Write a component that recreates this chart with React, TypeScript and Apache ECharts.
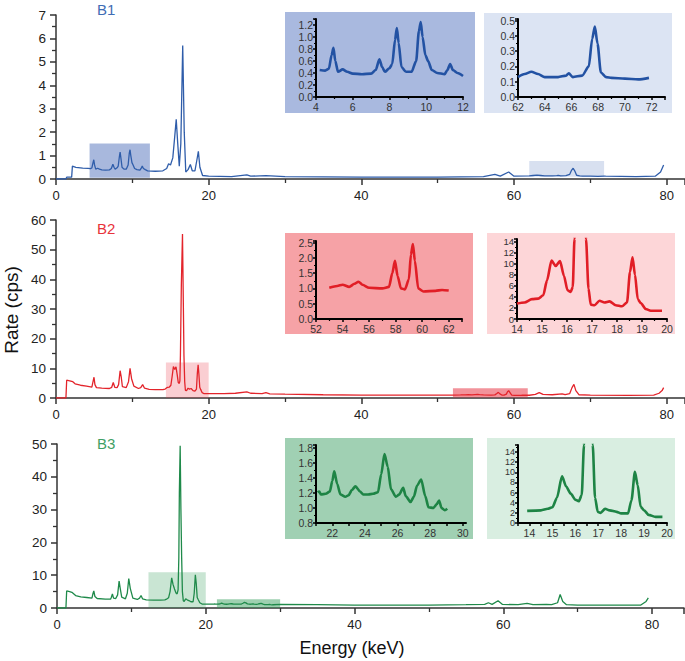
import React, { useEffect, useRef } from "react";
import * as echarts from "echarts";

// ---------- DATA ----------
const spectrumB1: [number, number][] = [
  [0, 0], [1.3, 0], [1.4, 0.08], [2.05, 0.08], [2.15, 0.55], [2.6, 0.5], [3.5, 0.46], [4.2, 0.45],
  [4.5, 0.44], [4.7, 0.47], [4.85, 0.7], [4.95, 0.82], [5.05, 0.6], [5.2, 0.42], [5.45, 0.46],
  [5.7, 0.42], [6.0, 0.39], [6.5, 0.38], [7.0, 0.39], [7.25, 0.45], [7.45, 0.63], [7.6, 0.5],
  [7.75, 0.42], [8.0, 0.48], [8.15, 0.55], [8.3, 0.95], [8.4, 1.15], [8.5, 0.9], [8.65, 0.5],
  [8.9, 0.42], [9.2, 0.42], [9.45, 0.6], [9.6, 1.1], [9.7, 1.25], [9.8, 1.0], [9.95, 0.7],
  [10.1, 0.6], [10.3, 0.45], [10.6, 0.4], [11.0, 0.38], [11.15, 0.45], [11.3, 0.55], [11.45, 0.45],
  [11.7, 0.4], [12.0, 0.35], [13, 0.33], [14.0, 0.35], [14.5, 0.45], [14.75, 0.65], [15.0, 0.6],
  [15.3, 0.9], [15.55, 1.8], [15.75, 2.55], [15.95, 1.5], [16.15, 0.55], [16.35, 1.5], [16.6, 5.7],
  [16.8, 2.0], [17.0, 0.3], [17.3, 0.4], [17.6, 0.62], [17.85, 0.35], [18.2, 0.35], [18.45, 0.8],
  [18.65, 1.18], [18.85, 0.5], [19.2, 0.15], [20, 0.12], [23, 0.1], [25, 0.18], [25.5, 0.12],
  [27.5, 0.14], [30, 0.1], [40, 0.08], [50, 0.08], [56, 0.1], [57.5, 0.2], [58.2, 0.12],
  [59.3, 0.3], [60, 0.12], [62, 0.13], [62.5, 0.15], [63.0, 0.165], [63.5, 0.15], [64, 0.13],
  [65, 0.13], [65.6, 0.14], [65.8, 0.155], [66.1, 0.13], [66.8, 0.14], [67.3, 0.2], [67.55, 0.38],
  [67.75, 0.46], [67.95, 0.35], [68.2, 0.16], [68.6, 0.13], [69, 0.125], [70, 0.12], [71, 0.115],
  [71.8, 0.125], [72, 0.12], [76, 0.1], [78.5, 0.12], [79.2, 0.3], [79.6, 0.6],
];

const spectrumB2: [number, number][] = [
  [0, 0], [1.3, 0], [1.4, 6.0], [1.8, 5.8], [2.2, 5.5], [2.5, 4.8], [3.2, 4.3], [4.0, 4.0],
  [4.7, 3.7], [4.85, 5.5], [4.98, 7.0], [5.1, 4.5], [5.3, 3.5], [6.0, 3.3], [7.0, 3.2], [7.3, 3.6],
  [7.5, 5.2], [7.7, 3.6], [8.0, 3.5], [8.2, 4.5], [8.4, 9.2], [8.55, 7], [8.7, 3.8], [9.2, 3.5],
  [9.5, 5.5], [9.7, 10.0], [9.9, 6.5], [10.2, 4.0], [10.8, 3.2], [11.1, 3.5], [11.35, 4.5],
  [11.6, 3.3], [12.2, 2.9], [13.0, 2.8], [14.0, 2.8], [14.3, 3.0], [14.6, 3.6], [14.85, 3.7],
  [15.05, 4.3], [15.2, 7.0], [15.38, 10.6], [15.55, 9.6], [15.72, 10.5], [15.88, 7.8], [16.02, 5.2],
  [16.15, 4.9], [16.23, 5.8], [16.3, 14.5], [16.42, 38], [16.57, 55.3], [16.68, 32], [16.76, 14.5],
  [16.86, 5.5], [16.95, 2.6], [17.1, 2.5], [17.3, 3.3], [17.5, 3.0], [17.7, 3.2], [17.95, 2.5],
  [18.2, 2.3], [18.4, 3.0], [18.52, 8.5], [18.62, 11.2], [18.72, 8.0], [18.83, 3.6], [18.95, 2.9],
  [19.15, 1.8], [19.35, 1.5], [19.8, 1.5], [20.5, 1.5], [22, 1.5], [23.5, 1.6], [25, 2.1],
  [25.5, 1.6], [27.0, 1.5], [27.5, 1.8], [28, 1.4], [30, 1.3], [35, 1.1], [40, 1.0], [45, 1.0],
  [50, 1.0], [52, 1.0], [53, 1.02], [53.6, 1.08], [54.0, 1.12], [54.5, 1.05], [54.9, 1.15],
  [55.2, 1.22], [55.5, 1.12], [56.0, 1.02], [57.0, 1.0], [57.5, 1.05], [57.75, 1.5], [57.95, 1.9],
  [58.15, 1.4], [58.4, 1.0], [58.7, 0.97], [59.0, 1.3], [59.15, 2.1], [59.3, 2.45], [59.45, 1.9],
  [59.7, 1.0], [60.1, 0.9], [61, 0.92], [61.5, 0.95], [62, 0.93], [62.8, 1.2], [63.3, 1.8],
  [63.8, 1.2], [65, 1.1], [66.3, 1.4], [66.7, 1.1], [67.3, 1.5], [67.6, 3.5], [67.85, 4.6],
  [68.1, 2.5], [68.5, 1.1], [70, 1.0], [75, 0.9], [78.3, 1.0], [79, 1.6], [79.4, 2.5], [79.6, 3.5],
];

const spectrumB3: [number, number][] = [
  [0, 0], [1.2, 0], [1.3, 5.2], [1.7, 5.0], [2.0, 4.8], [2.5, 3.8], [3.2, 3.4], [4.0, 3.2],
  [4.7, 3.0], [4.85, 4.5], [4.95, 5.2], [5.1, 3.5], [5.4, 2.9], [6.5, 2.7], [7.2, 2.7], [7.3, 3.2],
  [7.45, 4.3], [7.6, 3.0], [7.9, 2.9], [8.15, 4.0], [8.35, 8.2], [8.5, 6.0], [8.7, 3.3], [9.2, 2.8],
  [9.45, 4.5], [9.65, 9.0], [9.85, 6.0], [10.2, 3.0], [10.8, 2.6], [11.1, 3.0], [11.3, 3.8],
  [11.5, 2.8], [12.0, 2.5], [13.0, 2.4], [13.9, 2.4], [14.5, 2.5], [14.8, 2.8], [15.0, 3.1],
  [15.2, 5.0], [15.42, 9.2], [15.6, 7.2], [15.8, 5.8], [16.0, 4.6], [16.15, 4.3], [16.28, 5.5],
  [16.38, 15.4], [16.45, 35], [16.56, 49.5], [16.66, 30], [16.76, 15.4], [16.86, 5.0], [16.98, 2.2],
  [17.1, 2.0], [17.3, 2.8], [17.5, 2.5], [17.8, 2.2], [18.0, 1.9], [18.3, 1.9], [18.45, 4.5],
  [18.6, 10.1], [18.72, 7.5], [18.85, 3.2], [19.0, 2.5], [19.2, 1.6], [19.5, 1.2], [19.8, 1.2],
  [20.3, 1.2], [21.1, 1.21], [21.2, 1.22], [21.3, 1.18], [21.6, 1.19], [21.85, 1.22], [22.0, 1.36],
  [22.12, 1.49], [22.3, 1.32], [22.5, 1.18], [22.8, 1.15], [23.0, 1.17], [23.2, 1.24], [23.42, 1.29],
  [23.7, 1.22], [23.9, 1.18], [24.2, 1.18], [24.5, 1.19], [24.8, 1.21], [25.0, 1.45], [25.2, 1.72],
  [25.4, 1.55], [25.6, 1.25], [25.9, 1.15], [26.1, 1.18], [26.35, 1.27], [26.5, 1.16], [26.8, 1.08],
  [27.0, 1.15], [27.2, 1.3], [27.45, 1.38], [27.7, 1.16], [27.9, 1.01], [28.2, 1.0], [28.4, 1.05],
  [28.55, 1.1], [28.7, 1.0], [28.9, 0.97], [29.05, 0.99], [30, 1.1], [35, 1.0], [40, 0.9],
  [50, 0.9], [55, 1.0], [57.5, 1.1], [58.0, 1.6], [58.5, 1.1], [59.3, 2.2], [59.9, 1.1], [62, 1.0],
  [63.2, 1.4], [64, 1.0], [65.8, 1.1], [66.5, 1.0], [67.3, 1.6], [67.65, 4.1], [68.0, 2.0],
  [68.5, 1.0], [70, 0.9], [75, 0.85], [78.5, 0.9], [79.2, 2.0], [79.5, 3.1],
];

// highlighted windows on the main spectra: [x1, y1, x2, y2]
const highlightB1 = [[4.4, 0.05, 12.3, 1.52], [62, 0.1, 71.8, 0.77]];
const highlightB2 = [[14.4, 0, 20, 12], [52, 0.2, 61.8, 3.3]];
const highlightB3 = [[12.3, 0, 20, 10.9], [21.5, 0, 30, 2.65]];

// inset data windows [from, to]
const insetWindowB1 = [[4.2, 12], [62, 71.9]];
const insetWindowB2 = [[52.2, 62.1], [14, 19.8]];
const insetWindowB3 = [[21.1, 29.1], [13.9, 19.8]];

const panelLabels = ["B1", "B2", "B3"];

// ---------- STYLE ----------
const FONT = "Liberation Sans, Arial, sans-serif";
const lineColors = ["#2F5DAA", "#E3242B", "#1F8A4A"];
const insetLineColors = ["#2352A3", "#E11E26", "#1E8445"];
const labelColors = ["#3F6DB5", "#E8333B", "#3FA065"];
const hlColors = [
  ["rgba(62,98,180,0.45)", "rgba(62,98,180,0.2)"],
  ["rgba(235,60,75,0.25)", "rgba(230,40,55,0.5)"],
  ["rgba(40,150,80,0.25)", "rgba(40,150,80,0.45)"],
];

const mainGrids = [
  { left: 56, top: 15, width: 629, height: 164, xMax: 82.4, yMax: 7, yInt: 1 },
  { left: 56, top: 220, width: 629, height: 178, xMax: 82.4, yMax: 60, yInt: 10 },
  { left: 57, top: 444, width: 627, height: 164, xMax: 84.3, yMax: 50, yInt: 10 },
];

type Inset = {
  left: number; top: number; width: number; height: number;
  xMin: number; xMax: number; xInt: number; xLabelStep: number;
  yMin: number; yMax: number; yInt: number; yDec: number; yFont: number;
  bg: [number, number, number, number]; fill: string;
  sample: number; win: number[]; minorX: boolean;
};

const insets: Inset[] = [
  { left: 316, top: 19, width: 147, height: 78, xMin: 4, xMax: 12, xInt: 2, xLabelStep: 2,
    yMin: 0, yMax: 1.3, yInt: 0.2, yDec: 1, yFont: 10.5, bg: [285, 12, 190, 101], fill: "#A9B9DF",
    sample: 0, win: insetWindowB1[0], minorX: true },
  { left: 518, top: 19, width: 147, height: 78, xMin: 62, xMax: 73, xInt: 2, xLabelStep: 2,
    yMin: 0, yMax: 0.51, yInt: 0.1, yDec: 1, yFont: 10.5, bg: [484, 13, 188, 100], fill: "#DCE4F3",
    sample: 0, win: insetWindowB1[1], minorX: true },
  { left: 316, top: 241, width: 146, height: 78, xMin: 52, xMax: 63, xInt: 2, xLabelStep: 2,
    yMin: 0, yMax: 2.55, yInt: 0.5, yDec: 1, yFont: 10.5, bg: [285, 233, 188, 101], fill: "#F6A2A6",
    sample: 1, win: insetWindowB2[0], minorX: true },
  { left: 517, top: 239, width: 150, height: 80, xMin: 14, xMax: 20, xInt: 1, xLabelStep: 1,
    yMin: 0, yMax: 14.5, yInt: 2, yDec: 0, yFont: 9.5, bg: [487, 233, 188, 101], fill: "#FDD6D8",
    sample: 1, win: insetWindowB2[1], minorX: true },
  { left: 316, top: 445, width: 150, height: 78, xMin: 21, xMax: 30.2, xInt: 1, xLabelStep: 2,
    yMin: 0.8, yMax: 1.84, yInt: 0.2, yDec: 1, yFont: 10.5, bg: [285, 438, 188, 101], fill: "#A0D0B3",
    sample: 2, win: insetWindowB3[0], minorX: false },
  { left: 518, top: 445, width: 149, height: 78, xMin: 13.5, xMax: 20, xInt: 0.5, xLabelStep: 1,
    yMin: 0, yMax: 15.4, yInt: 2, yDec: 0, yFont: 9, bg: [487, 438, 188, 101], fill: "#D9EEE1",
    sample: 2, win: insetWindowB3[1], minorX: false },
];

const spectra = [spectrumB1, spectrumB2, spectrumB3];
const highlights = [highlightB1, highlightB2, highlightB3];

const isMultiple = (v: number, step: number) => {
  const r = v / step;
  return Math.abs(r - Math.round(r)) < 1e-6;
};

function buildOption() {
  const grid: any[] = [];
  const xAxis: any[] = [];
  const yAxis: any[] = [];
  const series: any[] = [];

  const axisCol = "#333";

  mainGrids.forEach((g, i) => {
    grid.push({ left: g.left, top: g.top, width: g.width, height: g.height, containLabel: false });
    xAxis.push({
      type: "value", gridIndex: i, min: 0, max: g.xMax, interval: 20,
      axisLine: { onZero: false, lineStyle: { color: axisCol, width: 1.5 } },
      axisTick: { length: 6, lineStyle: { color: axisCol, width: 1.5 } },
      minorTick: { show: true, splitNumber: 2, length: 4, lineStyle: { color: axisCol, width: 1.3 } },
      splitLine: { show: false }, minorSplitLine: { show: false },
      axisLabel: {
        fontSize: 13, color: "#222", margin: 10, fontFamily: FONT, showMaxLabel: false,
        formatter: (v: number) => (isMultiple(v, 20) && v <= 80 ? String(v) : ""),
      },
    });
    yAxis.push({
      type: "value", gridIndex: i, min: 0, max: g.yMax, interval: g.yInt,
      axisLine: { show: true, onZero: false, lineStyle: { color: axisCol, width: 1.5 } },
      axisTick: { show: true, length: 6, lineStyle: { color: axisCol, width: 1.5 } },
      minorTick: { show: true, splitNumber: 2, length: 4, lineStyle: { color: axisCol, width: 1.3 } },
      splitLine: { show: false }, minorSplitLine: { show: false },
      axisLabel: { fontSize: 13.5, color: "#222", margin: 10, fontFamily: FONT },
    });
    series.push({
      type: "line", xAxisIndex: i, yAxisIndex: i, data: spectra[i], showSymbol: false,
      lineStyle: { width: 1.3, color: lineColors[i] }, z: 3,
      markArea: {
        silent: true,
        data: highlights[i].map((r, k) => [
          { coord: [r[0], r[1]], itemStyle: { color: hlColors[i][k] } },
          { coord: [r[2], r[3]] },
        ]),
      },
    });
  });

  insets.forEach((s, j) => {
    const gi = 3 + j;
    const xMaxIsTick = isMultiple(s.xMax - s.xMin, s.xInt);
    const yMaxIsTick = isMultiple(s.yMax - s.yMin, s.yInt);
    grid.push({ left: s.left, top: s.top, width: s.width, height: s.height, containLabel: false });
    xAxis.push({
      type: "value", gridIndex: gi, min: s.xMin, max: s.xMax, interval: s.xInt,
      axisLine: { onZero: false, lineStyle: { color: "#000", width: 2 } },
      axisTick: { length: 3, lineStyle: { color: "#000", width: 1.5 } },
      minorTick: { show: s.minorX, splitNumber: 2, length: 2, lineStyle: { color: "#000", width: 1.2 } },
      splitLine: { show: false }, minorSplitLine: { show: false },
      axisLabel: {
        fontSize: 10.5, color: "#333", margin: 4, fontFamily: FONT,
        showMinLabel: true, showMaxLabel: xMaxIsTick, hideOverlap: false,
        formatter: (v: number) => (isMultiple(v, s.xLabelStep) ? String(Math.round(v)) : ""),
      },
    });
    yAxis.push({
      type: "value", gridIndex: gi, min: s.yMin, max: s.yMax, interval: s.yInt,
      axisLine: { show: true, onZero: false, lineStyle: { color: "#000", width: 2 } },
      axisTick: { show: true, length: 3, lineStyle: { color: "#000", width: 1.5 } },
      minorTick: { show: true, splitNumber: 2, length: 2, lineStyle: { color: "#000", width: 1.2 } },
      splitLine: { show: false }, minorSplitLine: { show: false },
      axisLabel: {
        fontSize: s.yFont, color: "#333", margin: 3, fontFamily: FONT,
        showMinLabel: true, showMaxLabel: yMaxIsTick, hideOverlap: false,
        formatter: (v: number) => (isMultiple(v - s.yMin, s.yInt) ? v.toFixed(s.yDec) : ""),
      },
    });
    series.push({
      type: "line", xAxisIndex: gi, yAxisIndex: gi,
      data: spectra[s.sample].filter((p) => p[0] >= s.win[0] && p[0] <= s.win[1]),
      showSymbol: false, smooth: 0.25, smoothMonotone: "x", clip: true,
      lineStyle: { width: 2.6, color: insetLineColors[s.sample] }, z: 5,
    });
  });

  const graphic: any[] = [];
  insets.forEach((s) => {
    graphic.push({
      type: "rect", z: -10, silent: true,
      shape: { x: s.bg[0], y: s.bg[1], width: s.bg[2], height: s.bg[3] },
      style: { fill: s.fill },
    });
  });
  const labelY = [9, 228, 443];
  panelLabels.forEach((t, i) => {
    graphic.push({
      type: "text", x: 97, y: labelY[i], z: 10,
      style: { text: t, fill: labelColors[i], font: `15px ${FONT}`, verticalAlign: "middle" },
    });
  });
  graphic.push({
    type: "text", x: 352, y: 648, z: 10,
    style: { text: "Energy (keV)", fill: "#111", font: `18px ${FONT}`, align: "center", verticalAlign: "middle" },
  });
  graphic.push({
    type: "text", x: 11, y: 310, rotation: Math.PI / 2, z: 10,
    style: { text: "Rate (cps)", fill: "#111", font: `19px ${FONT}`, align: "center", verticalAlign: "middle" },
  });

  return {
    animation: false,
    backgroundColor: "#fff",
    grid, xAxis, yAxis, series, graphic,
  };
}

export default function App() {
  const ref = useRef<HTMLDivElement>(null);
  useEffect(() => {
    if (!ref.current) return;
    const chart = echarts.init(ref.current, null, { renderer: "svg" });
    chart.setOption(buildOption() as any);
    return () => chart.dispose();
  }, []);
  return (
    <div
      ref={ref}
      style={{ position: "fixed", left: 0, top: 0, width: 685, height: 661, background: "#fff" }}
    />
  );
}
